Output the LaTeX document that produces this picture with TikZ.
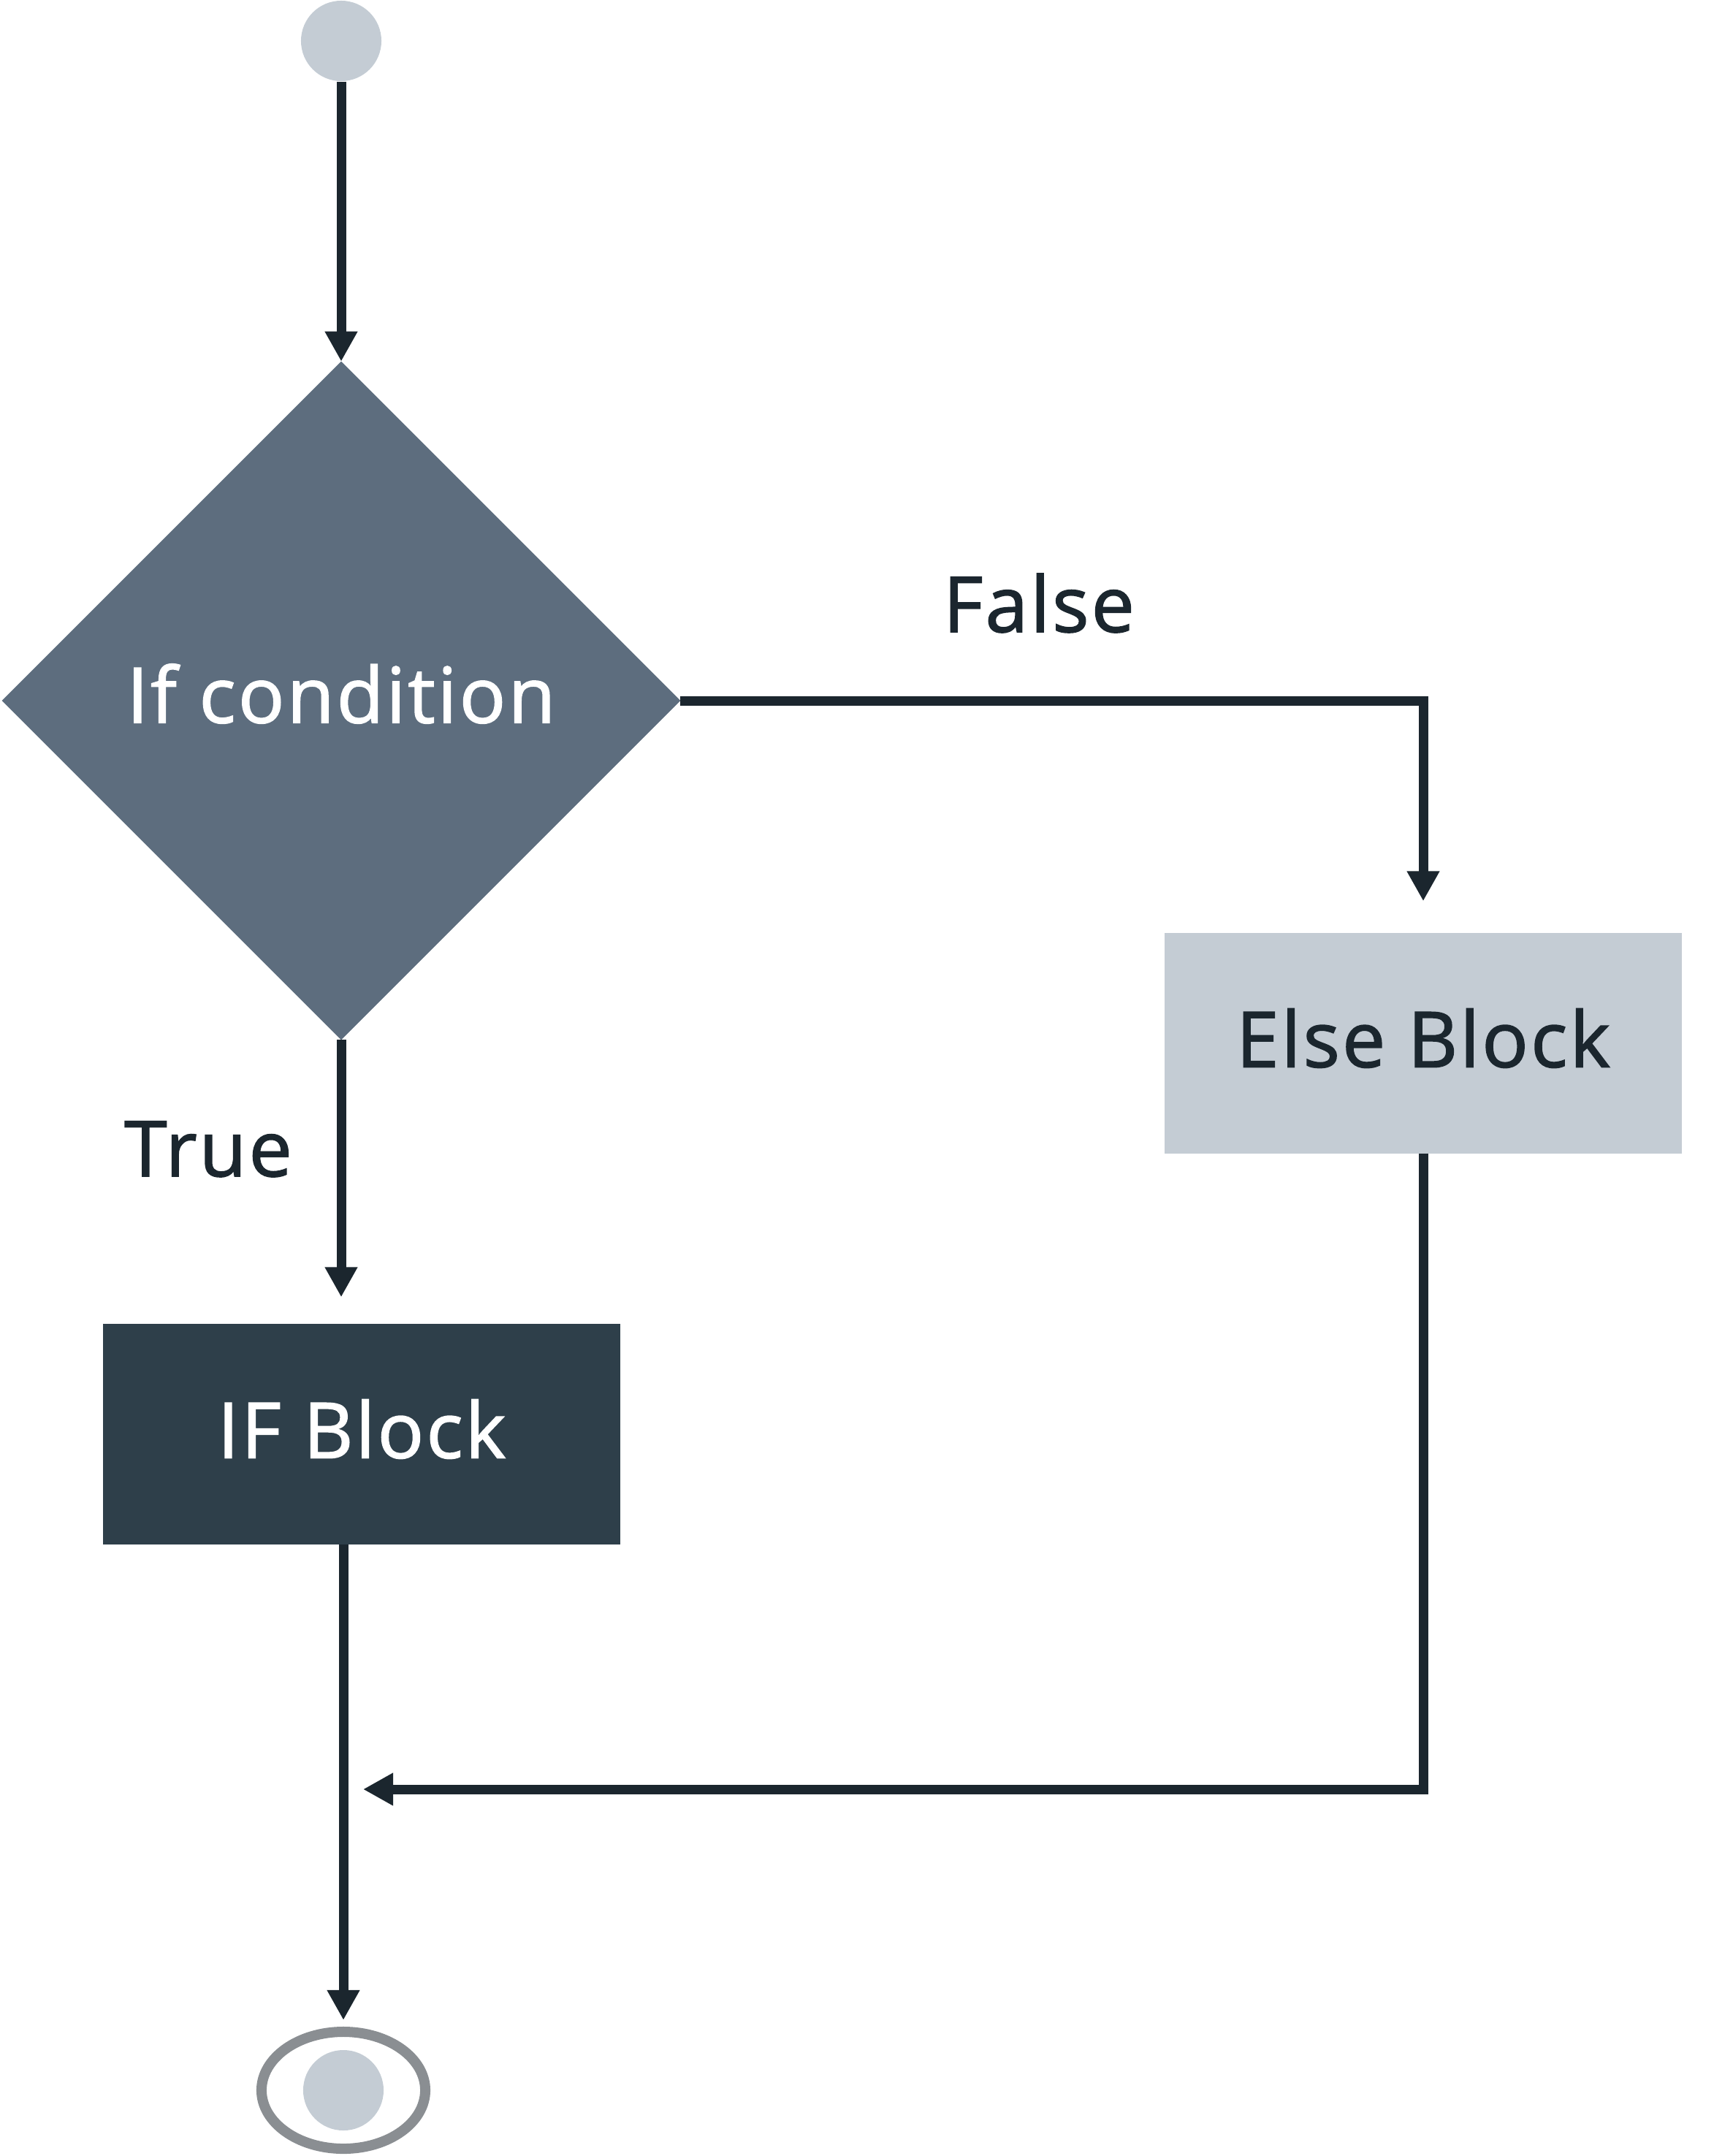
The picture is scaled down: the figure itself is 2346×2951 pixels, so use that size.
\documentclass[tikz,border=0pt]{standalone}
\usepackage{fontspec}
\setmainfont{Open Sans}[LetterSpace=3, FakeBold=1.5]
\usetikzlibrary{arrows.meta,shapes.geometric,positioning}
\definecolor{inkdark}{HTML}{1B262E}
\definecolor{slate}{HTML}{5D6D7E}
\definecolor{ifdark}{HTML}{2E3F4A}
\definecolor{pale}{HTML}{C4CCD4}
\definecolor{ringgray}{HTML}{8A8E92}
\tikzset{
    flow label/.style = {
        text = inkdark,
        font = \fontsize{30}{36}\selectfont,
        anchor = base,
        },
    block/.style = {
        rectangle,
        minimum width = 7.07cm,
        minimum height = 3.01cm,
        inner sep = 0pt,
        outer sep = 0pt,
        text depth = 0.15cm,
        font = \fontsize{30}{36}\selectfont,
        },
    dot/.style = {
        circle,
        fill = pale,
        minimum size = 1.1cm,
        inner sep = 0pt,
        },
    flow/.style = {
        draw = inkdark,
        line width = 0.13cm,
        -{Triangle[length=0.41cm, width=0.42cm]},
        },
}
\begin{document}
\begin{tikzpicture}[
                x = 0.01cm,
                y = -0.01cm,
                decision/.style={diamond, fill=slate, text=white, minimum size=9.28cm, inner sep=0pt, outer sep=0pt, text depth=0.2cm, font=\fontsize{30}{36}\selectfont},
            ]
            \useasboundingbox (0,0) rectangle (2346,2951);

            \node [dot] (start) at (467,56) {};
            \node [decision] (cond) at (467,959) {If condition};

            \node [block, fill=ifdark, text=white] (ifblock) at (495,1963) {IF Block};
            \node [block, fill=pale, text=inkdark] (elseblock) at (1948,1428) {Else Block};

            \node [ellipse, draw=ringgray, line width=0.14cm, minimum width=2.24cm, minimum height=1.6cm, inner sep=0pt, outer sep=0pt] (stop) at (470,2861) {};
            \node [dot] (stopdot) at (stop.center) {};

            \coordinate (join) at (470,2449);

            \node [flow label] (falselbl) at (1422,865) {False};
            \node [flow label] (truelbl) at (285,1610) {True};

            \draw[flow] (start) -- (cond.north);
            \draw[flow, shorten >=0.44cm] (cond.east) -| (elseblock.north);
            \draw[flow, shorten >=0.37cm] (cond.south) -- (cond.south |- ifblock.north);
            \draw[flow, shorten >=0.27cm] (elseblock.south) |- (join);
            \draw[flow, shorten >=0.16cm] (join |- ifblock.south) -- (stop.north);
        \end{tikzpicture}
\end{document}
